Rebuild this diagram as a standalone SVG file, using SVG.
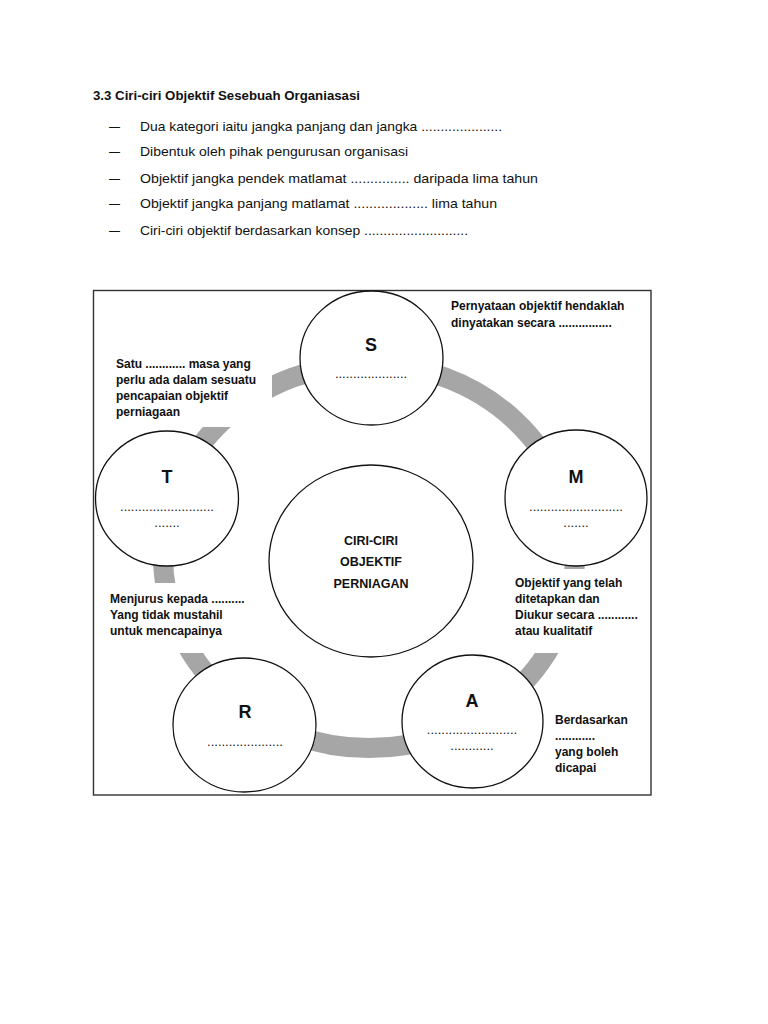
<svg xmlns="http://www.w3.org/2000/svg" width="768" height="1024" viewBox="0 0 768 1024">
<style>
text{font-family:"Liberation Sans",Arial,sans-serif;fill:#111}
.hd{font-size:13.5px}
.tt{font-size:13.5px;font-weight:bold}
.lb{font-size:12px;font-weight:bold}
.big{font-size:18px;font-weight:bold;text-anchor:middle}
.dots{font-size:13px;text-anchor:middle}
.ctr{font-size:12.5px;font-weight:bold;text-anchor:middle}
.node{fill:#fff;stroke:#111;stroke-width:1.3}
.mask{fill:#fff}
</style>
<rect width="768" height="1024" fill="#fff"/>
<g id="header">
<text class="tt" x="93" y="100" textLength="267" lengthAdjust="spacingAndGlyphs">3.3 Ciri-ciri Objektif Sesebuah Organiasasi</text>
<text class="hd" x="109" y="131" textLength="11" lengthAdjust="spacingAndGlyphs">–</text>
<text class="hd" x="140" y="131" textLength="362" lengthAdjust="spacingAndGlyphs">Dua kategori iaitu jangka panjang dan jangka .....................</text>
<text class="hd" x="109" y="156" textLength="11" lengthAdjust="spacingAndGlyphs">–</text>
<text class="hd" x="140" y="156" textLength="268" lengthAdjust="spacingAndGlyphs">Dibentuk oleh pihak pengurusan organisasi</text>
<text class="hd" x="109" y="183" textLength="11" lengthAdjust="spacingAndGlyphs">–</text>
<text class="hd" x="140" y="183" textLength="398" lengthAdjust="spacingAndGlyphs">Objektif jangka pendek matlamat ............... daripada lima tahun</text>
<text class="hd" x="109" y="208" textLength="11" lengthAdjust="spacingAndGlyphs">–</text>
<text class="hd" x="140" y="208" textLength="357" lengthAdjust="spacingAndGlyphs">Objektif jangka panjang matlamat ................... lima tahun</text>
<text class="hd" x="109" y="235" textLength="11" lengthAdjust="spacingAndGlyphs">–</text>
<text class="hd" x="140" y="235" textLength="328" lengthAdjust="spacingAndGlyphs">Ciri-ciri objektif berdasarkan konsep ...........................</text>
</g>
<rect id="frame" x="93.5" y="290.5" width="557.5" height="504.5" fill="none" stroke="#333" stroke-width="1.4"/>
<g id="connectors">
<ellipse cx="369" cy="556" rx="206" ry="192" fill="none" stroke="#a6a6a6" stroke-width="20"/>
</g>
<g id="label-T-note">
<rect class="mask" x="106" y="350" width="166" height="77"/>
<text class="lb" x="116" y="368">Satu ............ masa yang</text>
<text class="lb" x="116" y="384">perlu ada dalam sesuatu</text>
<text class="lb" x="116" y="400">pencapaian objektif</text>
<text class="lb" x="116" y="416">perniagaan</text>
</g>
<g id="label-R-note">
<rect class="mask" x="103" y="583" width="152" height="70"/>
<text class="lb" x="110" y="603">Menjurus kepada ..........</text>
<text class="lb" x="110" y="619">Yang tidak mustahil</text>
<text class="lb" x="110" y="635">untuk mencapainya</text>
</g>
<g id="label-M-note">
<rect class="mask" x="508" y="569" width="135" height="84"/>
<text class="lb" x="515" y="587">Objektif yang telah</text>
<text class="lb" x="515" y="603">ditetapkan dan</text>
<text class="lb" x="515" y="619">Diukur secara ............</text>
<text class="lb" x="515" y="635">atau kualitatif</text>
</g>
<g id="label-S-note">
<text class="lb" x="451" y="310">Pernyataan objektif hendaklah</text>
<text class="lb" x="451" y="327">dinyatakan secara ................</text>
</g>
<g id="label-A-note">
<text class="lb" x="555" y="724">Berdasarkan</text>
<text class="lb" x="555" y="740">............</text>
<text class="lb" x="555" y="756">yang boleh</text>
<text class="lb" x="555" y="772">dicapai</text>
</g>
<g id="node-center">
<ellipse class="node" cx="371" cy="561" rx="102" ry="96"/>
<text class="ctr" x="371" y="545">CIRI-CIRI</text>
<text class="ctr" x="371" y="566">OBJEKTIF</text>
<text class="ctr" x="371" y="588">PERNIAGAN</text>
</g>
<g id="node-S">
<ellipse class="node" cx="371.5" cy="358" rx="71.5" ry="67"/>
<text class="big" x="371" y="351">S</text>
<text class="dots" x="371" y="378">....................</text>
</g>
<g id="node-T">
<ellipse class="node" cx="167" cy="498.5" rx="71.5" ry="67.5"/>
<text class="big" x="167" y="483">T</text>
<text class="dots" x="167" y="511">..........................</text>
<text class="dots" x="167" y="527">.......</text>
</g>
<g id="node-M">
<ellipse class="node" cx="576" cy="498" rx="71" ry="68"/>
<text class="big" x="576" y="483">M</text>
<text class="dots" x="576" y="511">..........................</text>
<text class="dots" x="576" y="527">.......</text>
</g>
<g id="node-R">
<ellipse class="node" cx="244.5" cy="725" rx="71.5" ry="67"/>
<text class="big" x="245" y="718">R</text>
<text class="dots" x="245" y="746">.....................</text>
</g>
<g id="node-A">
<ellipse class="node" cx="472.5" cy="721.5" rx="70.5" ry="66.5"/>
<text class="big" x="472" y="707">A</text>
<text class="dots" x="472" y="734">.........................</text>
<text class="dots" x="472" y="750">............</text>
</g>
</svg>
